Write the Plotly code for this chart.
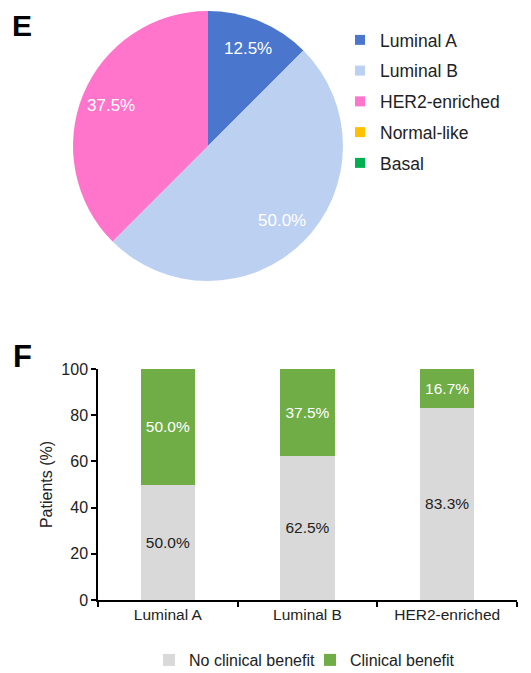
import math
import plotly.graph_objects as go

# Pie data (panel E)
subtypes = ["Luminal A", "Luminal B", "HER2-enriched", "Normal-like", "Basal"]
subtype_share = [12.5, 50.0, 37.5, 0.0, 0.0]
subtype_colors = ["#4a77cd", "#bcd0f1", "#ff75cc", "#ffc000", "#00b050"]

# Stacked bar data (panel F)
bar_categories = ["Luminal A", "Luminal B", "HER2-enriched"]
no_benefit = [50.0, 62.5, 83.3]
benefit = [50.0, 37.5, 16.7]
y_ticks = [0, 20, 40, 60, 80, 100]

W, H = 531, 673
FONT = "Arial, Liberation Sans, sans-serif"


def px(x):
    return x / W


def py(y):
    return 1 - y / H


# pie placement (pixels in figure)
PIE_L, PIE_R, PIE_T, PIE_B = 65, 335, 3, 273
PIE_CX, PIE_CY, PIE_RAD = (PIE_L + PIE_R) / 2, (PIE_T + PIE_B) / 2, (PIE_R - PIE_L) / 2

fig = go.Figure()

fig.add_trace(go.Pie(
    labels=subtypes,
    values=subtype_share,
    marker=dict(colors=subtype_colors, line=dict(width=0)),
    sort=False,
    direction="clockwise",
    rotation=0,
    textinfo="none",
    domain=dict(x=[px(PIE_L), px(PIE_R)], y=[py(PIE_B), py(PIE_T)]),
    hoverinfo="label+percent",
    showlegend=False,
))

# percentage labels placed along each slice's bisector (derived from the data)
annotations = []
total = sum(subtype_share)
cum = 0.0
for v in subtype_share:
    if v > 0:
        mid = (cum + v / 2) / total * 2 * math.pi
        rr = 0.78 * PIE_RAD
        annotations.append(dict(
            text=f"{v / total * 100:.1f}%",
            x=px(PIE_CX + rr * math.sin(mid)), y=py(PIE_CY - rr * math.cos(mid)),
            xref="paper", yref="paper", xanchor="center", yanchor="middle",
            showarrow=False, font=dict(size=17, color="white", family=FONT),
        ))
    cum += v

# legend entries for the pie subtypes (one per group so spacing can be set)
for name, col in zip(subtypes, subtype_colors):
    fig.add_trace(go.Scatter(
        x=[None], y=[None], mode="markers", name=name,
        marker=dict(symbol="square", size=10, color=col),
        legend="legend", legendgroup=name, xaxis="x2", yaxis="y2",
        hoverinfo="skip",
    ))

fig.add_trace(go.Bar(
    x=bar_categories, y=no_benefit, name="No clinical benefit",
    marker=dict(color="#d9d9d9", line=dict(width=0)),
    text=[f"{v:.1f}%" for v in no_benefit],
    textposition="inside", insidetextanchor="middle",
    textfont=dict(color="#222222", size=15.5, family=FONT),
    legend="legend2", width=0.39,
))
fig.add_trace(go.Bar(
    x=bar_categories, y=benefit, name="Clinical benefit",
    marker=dict(color="#70ad47", line=dict(width=0)),
    text=[f"{v:.1f}%" for v in benefit],
    textposition="inside", insidetextanchor="middle",
    textfont=dict(color="white", size=15.5, family=FONT),
    legend="legend2", width=0.39,
))

annotations += [
    dict(text="<b>E</b>", x=px(3), y=py(0), xref="paper", yref="paper",
         xanchor="left", yanchor="top", showarrow=False, borderpad=0,
         font=dict(size=30, color="black")),
    dict(text="<b>F</b>", x=px(3), y=py(348.5), xref="paper", yref="paper",
         xanchor="left", yanchor="middle", showarrow=False,
         font=dict(size=31, color="black")),
]

fig.update_layout(
    width=W, height=H,
    margin=dict(l=0, r=0, t=0, b=0, autoexpand=False),
    paper_bgcolor="white", plot_bgcolor="white",
    font=dict(family=FONT, color="#222222", size=15.5),
    barmode="stack",
    xaxis=dict(
        domain=[px(90), px(509)],
        tickson="boundaries", ticks="outside", ticklen=5, tickwidth=1.5,
        tickcolor="black", showline=True, linecolor="black", linewidth=1.5,
        tickfont=dict(size=15.5), showgrid=False, zeroline=False,
    ),
    yaxis=dict(
        domain=[py(592), py(361)], range=[0, 100],
        tickvals=y_ticks, ticks="outside", ticklen=5, tickwidth=1.5,
        tickcolor="black", showline=True, linecolor="black", linewidth=1.5,
        tickfont=dict(size=16), showgrid=False, zeroline=False,
        title=dict(text="Patients (%)", font=dict(size=16), standoff=5),
    ),
    xaxis2=dict(visible=False, domain=[0, 0.01], anchor="y2"),
    yaxis2=dict(visible=False, domain=[0.99, 1], anchor="x2"),
    legend=dict(
        x=px(332), y=py(14), xanchor="left", yanchor="top",
        font=dict(size=17.5), itemsizing="trace", traceorder="grouped",
        tracegroupgap=5, bgcolor="rgba(0,0,0,0)",
    ),
    legend2=dict(
        orientation="h", x=px(141), y=py(652), xanchor="left", yanchor="middle",
        font=dict(size=16), bgcolor="rgba(0,0,0,0)", traceorder="normal",
        entrywidth=116,
    ),
    annotations=annotations,
)

fig.write_html("out.html")
